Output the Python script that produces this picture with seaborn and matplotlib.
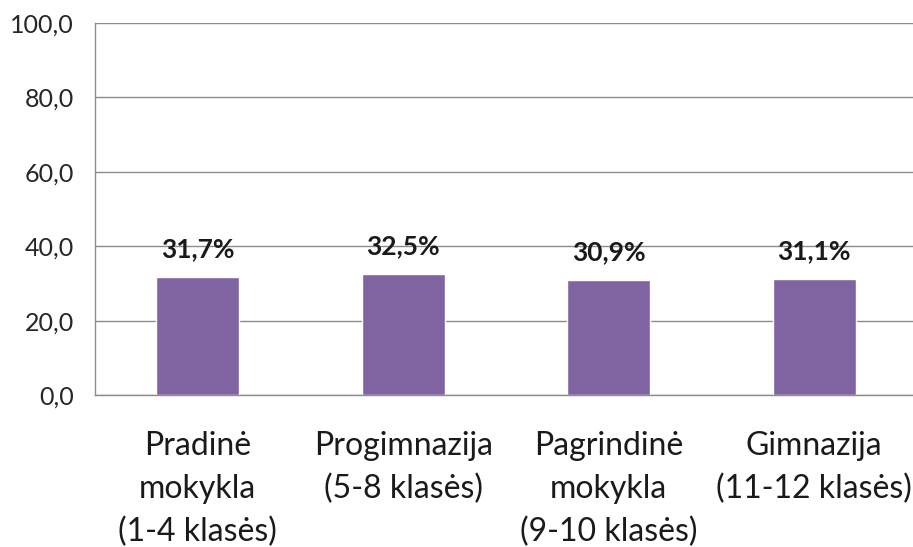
import matplotlib
matplotlib.use("Agg")
import matplotlib.pyplot as plt
import seaborn as sns
import pandas as pd

categories = ["Pradinė\nmokykla\n(1-4 klasės)", "Progimnazija\n(5-8 klasės)",
              "Pagrindinė\nmokykla\n(9-10 klasės)", "Gimnazija\n(11-12 klasės)"]
values = [31.7, 32.5, 30.9, 31.1]
value_labels = ["31,7%", "32,5%", "30,9%", "31,1%"]
yticks = [0, 20, 40, 60, 80, 100]
ytick_labels = ["0,0", "20,0", "40,0", "60,0", "80,0", "100,0"]

sns.set_theme(style="white")
plt.rcParams['font.family'] = ['Lato', 'DejaVu Sans']

df = pd.DataFrame({"cat": categories, "val": values})

fig = plt.figure(figsize=(9.13, 5.47), dpi=100)
ax = fig.add_axes([95/913, 1 - 395/547, (917 - 95)/913, (395 - 23)/547])

sns.barplot(data=df, x="cat", y="val", color="#8064A2", width=0.402, ax=ax,
            saturation=1)
ax.set_xlim(-0.5, 3.5)
ax.set_ylim(0, 100)
ax.set_yticks(yticks)
ax.set_yticklabels(ytick_labels, fontsize=18, color="#262626")
ax.set_xlabel("")
ax.set_ylabel("")
ax.yaxis.grid(True, color="#8c8c8c", linewidth=1.0)
ax.set_axisbelow(True)
for s in ["top", "right"]:
    ax.spines[s].set_visible(False)
for s in ["left", "bottom"]:
    ax.spines[s].set_color("#8c8c8c")
    ax.spines[s].set_linewidth(1.0)

ax.set_xticks([-0.5, 0.5, 1.5, 2.5, 3.5])
ax.set_xticklabels([])
ax.tick_params(axis="x", which="major", length=8, color="#8c8c8c", width=1.0, direction="out")
ax.set_xticks([0, 1, 2, 3], minor=True)
ax.set_xticklabels(categories, minor=True, fontsize=23, color="#1a1a1a", linespacing=1.52)
ax.tick_params(axis="x", which="minor", length=0, pad=26)
ax.tick_params(axis="y", length=7.2, color="#8c8c8c", width=1.0, direction="out", pad=8)

for i, (v, lab) in enumerate(zip(values, value_labels)):
    ax.annotate(lab, (i, v), xytext=(0, 14.5), textcoords="offset points",
                ha="center", va="baseline", fontsize=19, fontweight="bold", color="#1a1a1a")

fig.savefig("out.png", dpi=100)
